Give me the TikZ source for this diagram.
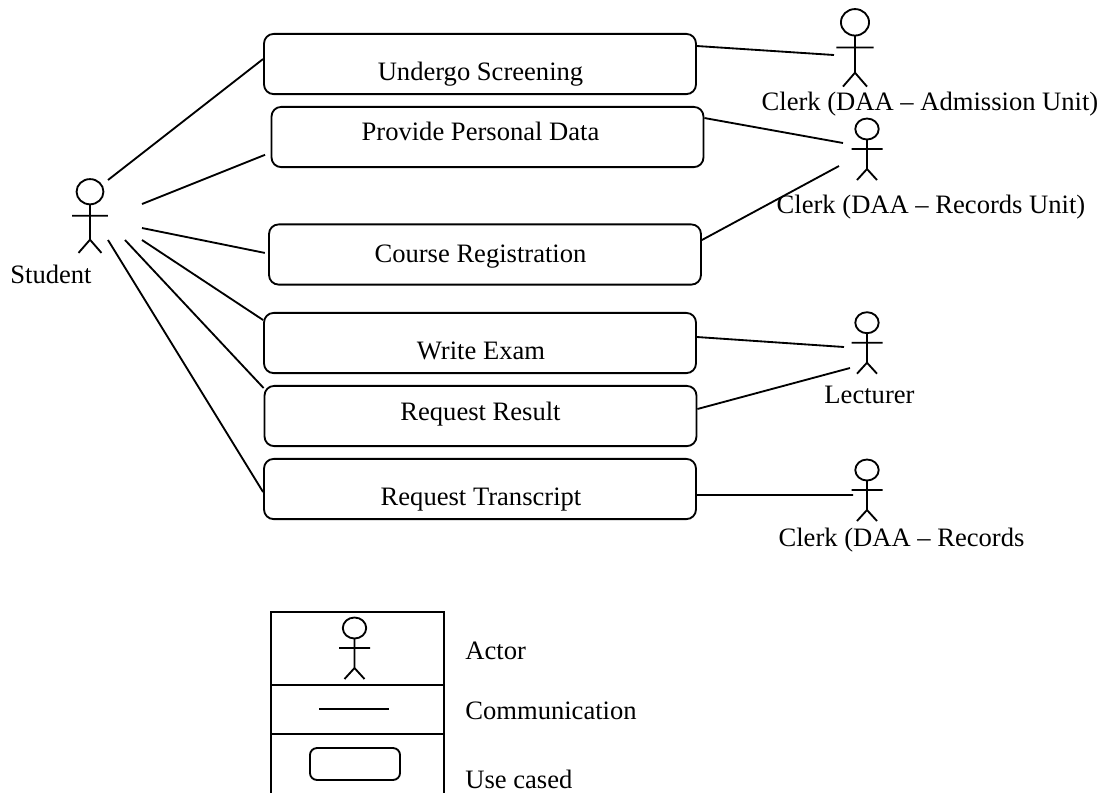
\documentclass[tikz,border=0pt]{standalone}
\usepackage{fontspec}
\setmainfont{Liberation Serif}
\tikzset{
    line/.style={line width=1pt},
    usecase/.style={draw, line, rounded corners=5.2pt, inner sep=0pt, minimum width=234pt, minimum height=32.6pt},
    cell/.style={draw, line, inner sep=0pt, minimum width=94pt},
    caption/.style={anchor=base, inner sep=0pt, font=\fontsize{14.4}{17}\selectfont},
    pics/actor/.style={code={
        \draw[line] (0,0) ellipse (11.7 and 10.5);
        \draw[line] (0,10.5) -- (0,40) (-15.5,20) -- (15.5,20)
                    (-10,51) -- (0,40) -- (10,51);
    }}
}

\begin{document}
\begin{tikzpicture}[x=0.5417pt, y=-0.5417pt]
    \useasboundingbox (0,0) rectangle (1102,792);

    \pic[xscale=1.15, yscale=1.2] at (90,191.7) {actor};
    \pic[xscale=1.2, yscale=1.26] at (855,22.3) {actor};
    \pic at (867,129) {actor};
    \pic at (867,322.7) {actor};
    \pic at (867,470) {actor};

    \node[usecase] (screening) at (480,64) {};
    \node[usecase] (personal) at (487.5,137) {};
    \node[usecase] (course) at (485,254.5) {};
    \node[usecase] (exam) at (480,343) {};
    \node[usecase] (result) at (480.5,416) {};
    \node[usecase] (transcript) at (480,489) {};

    \node[caption] (screeningtext) at (480.5,80.7) {Undergo Screening};
    \node[caption] (personaltext) at (480.5,140.7) {Provide Personal Data};
    \node[caption] (coursetext) at (480.5,262) {Course Registration};
    \node[caption] (examtext) at (481,359) {Write Exam};
    \node[caption] (resulttext) at (480.5,420) {Request Result};
    \node[caption] (transcripttext) at (481,505) {Request Transcript};

    \node[caption] (student) at (51,283) {Student};
    \node[caption] (admission) at (930,110) {Clerk (DAA – Admission Unit)};
    \node[caption] (records) at (931,213) {Clerk (DAA – Records Unit)};
    \node[caption] (lecturer) at (869.5,403) {Lecturer};
    \node[caption] (recordsclerk) at (901.5,546) {Clerk (DAA – Records};

    \coordinate (s1) at (108,180);
    \coordinate (s2) at (142,204);
    \coordinate (s3) at (142,228);
    \coordinate (s4) at (142,240);
    \coordinate (s5) at (125,240);
    \coordinate (s6) at (108,240);
    \coordinate (a1) at (834,55);
    \coordinate (a2) at (843,143);
    \coordinate (a3) at (839,166);
    \coordinate (a4) at (844,347);
    \coordinate (a5) at (850,368);
    \coordinate (a6) at (853,495);

    \draw[line] (s1) edge ([yshift=2.7pt]screening.west)
          (s2) edge[shorten >=3.2pt] ([yshift=-8.45pt]personal.west)
          (s3) edge[shorten >=1.8pt] ([yshift=0.5pt]course.west)
          (s4) edge ([yshift=12.46pt]exam.west)
          (s5) edge ([yshift=15.17pt]result.west)
          (s6) edge ([yshift=-1.63pt]transcript.west)
          ([yshift=9.75pt]screening.east) edge (a1)
          ([yshift=10.29pt]personal.east) edge (a2)
          ([yshift=7.85pt]course.east) edge (a3)
          ([yshift=3.25pt]exam.east) edge (a4)
          ([yshift=3.79pt]result.east) edge (a5)
          ([yshift=-3.25pt]transcript.east) edge (a6)
          ;

    \node[cell, minimum height=39.5pt] (actorcell) at (357.5,648.5) {};
    \node[cell, minimum height=26.5pt] (linkcell) at (357.5,709.5) {};
    \node[cell, minimum height=35.8pt] (casecell) at (357.5,767) {};
    \pic at (354.5,628) {actor};
    \coordinate (l1) at (319,709);
    \coordinate (l2) at (389,709);
    \draw[line] (l1) -- (l2);
    \node[draw, line, rounded corners=3.8pt, inner sep=0pt, minimum width=48.8pt, minimum height=17.3pt] (legendcase) at (355,764) {};

    \node[caption, anchor=base west] (actortext) at (465,659) {Actor};
    \node[caption, anchor=base west] (linktext) at (465,719) {Communication};
    \node[caption, anchor=base west] (casetext) at (465,788) {Use cased};
\end{tikzpicture}
\end{document}
